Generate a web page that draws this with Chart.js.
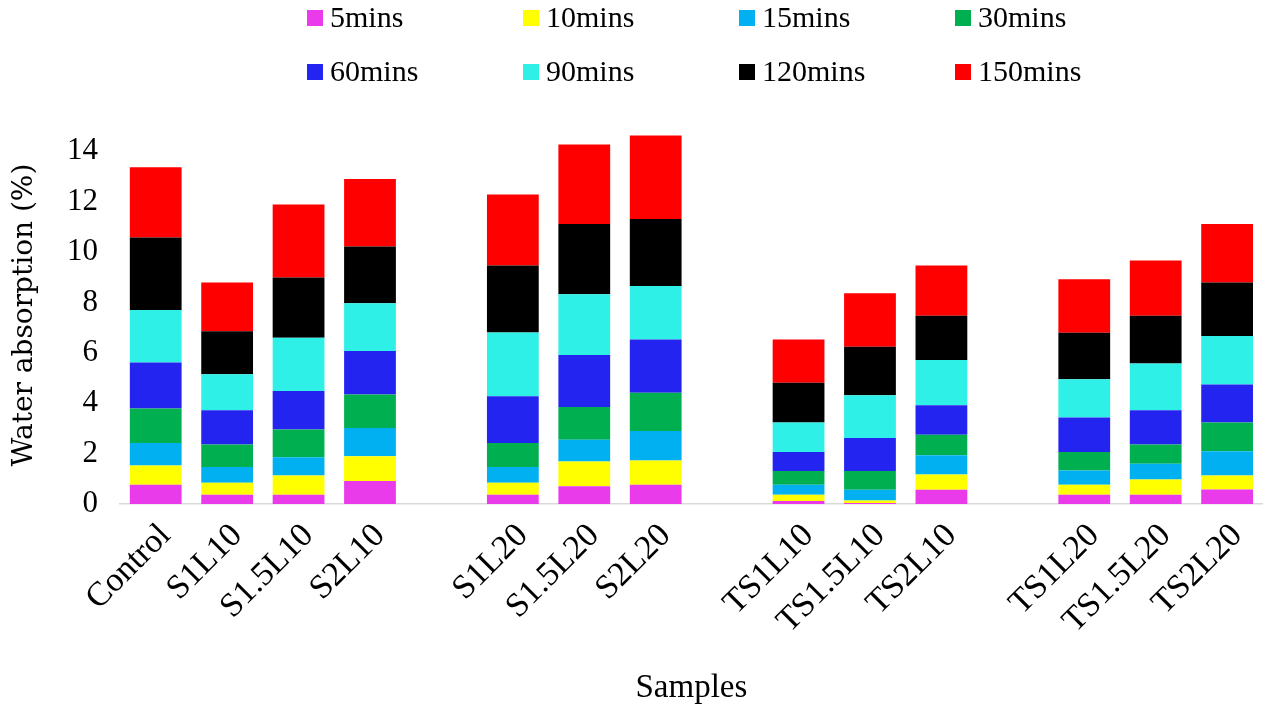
<!DOCTYPE html>
<html>
<head>
<meta charset="utf-8">
<script src="https://cdn.jsdelivr.net/npm/chart.js@4/dist/chart.umd.min.js"></script>
<style>
  html, body { margin: 0; padding: 0; background: #ffffff; }
  #wrap { width: 1268px; height: 706px; }
</style>
</head>
<body>
<div id="wrap"><canvas id="c" width="1268" height="706"></canvas></div>
<script>
// Sample names; empty strings are spacer columns between the groups
const categories = ['Control', 'S1L10', 'S1.5L10', 'S2L10', '',
  'S1L20', 'S1.5L20', 'S2L20', '',
  'TS1L10', 'TS1.5L10', 'TS2L10', '',
  'TS1L20', 'TS1.5L20', 'TS2L20'];

const timeLabels = ['5mins', '10mins', '15mins', '30mins', '60mins', '90mins', '120mins', '150mins'];
const timeColors = ['#EA3BEA', '#FFFF00', '#00B0F0', '#00B050', '#2424F0', '#2EF0E6', '#000000', '#FF0000'];

// Water absorption (%) gained in each interval, stacked per sample
const v5   = [0.76, 0.37, 0.37, 0.91, null, 0.37, 0.70, 0.76, null, 0.12, 0.04, 0.57, null, 0.37, 0.37, 0.58];
const v10  = [0.77, 0.47, 0.76, 0.98, null, 0.47, 0.99, 0.97, null, 0.25, 0.10, 0.60, null, 0.39, 0.60, 0.55];
const v15  = [0.89, 0.63, 0.73, 1.13, null, 0.63, 0.86, 1.17, null, 0.39, 0.43, 0.76, null, 0.57, 0.63, 0.96];
const v30  = [1.37, 0.89, 1.10, 1.33, null, 0.95, 1.30, 1.51, null, 0.55, 0.74, 0.82, null, 0.73, 0.76, 1.14];
const v60  = [1.83, 1.36, 1.52, 1.72, null, 1.86, 2.06, 2.12, null, 0.75, 1.31, 1.17, null, 1.37, 1.36, 1.51];
const v90  = [2.08, 1.43, 2.12, 1.90, null, 2.53, 2.41, 2.12, null, 1.17, 1.70, 1.79, null, 1.52, 1.86, 1.93];
const v120 = [2.88, 1.71, 2.39, 2.25, null, 2.65, 2.79, 2.66, null, 1.58, 1.92, 1.76, null, 1.85, 1.89, 2.12];
const v150 = [2.78, 1.93, 2.89, 2.68, null, 2.82, 3.16, 3.31, null, 1.72, 2.12, 1.99, null, 2.12, 2.19, 2.32];

const yTicks = [0, 2, 4, 6, 8, 10, 12, 14];

const seriesValues = [v5, v10, v15, v30, v60, v90, v120, v150];

const SERIF = '"Liberation Serif", "Times New Roman", serif';
const WIDE_SERIF = '"DejaVu Serif", serif';

// Legend drawn as a 4 x 2 grid above the plot
const gridLegend = {
  id: 'gridLegend',
  afterDraw(chart) {
    const ctx = chart.ctx;
    const x0 = 307, dx = 216, y0 = 18, dy = 54, box = 16;
    ctx.save();
    ctx.font = '30px ' + SERIF;
    ctx.textBaseline = 'middle';
    ctx.textAlign = 'left';
    chart.data.datasets.forEach((ds, i) => {
      const x = x0 + (i % 4) * dx;
      const y = y0 + Math.floor(i / 4) * dy;
      ctx.fillStyle = ds.backgroundColor;
      ctx.fillRect(x, y - box / 2, box, box);
      ctx.fillStyle = '#000000';
      ctx.fillText(ds.label, x + 23, y + 1);
    });
    ctx.restore();
  }
};

new Chart(document.getElementById('c'), {
  type: 'bar',
  data: {
    labels: categories,
    datasets: timeLabels.map((label, i) => ({
      label: label,
      data: seriesValues[i],
      backgroundColor: timeColors[i],
      borderWidth: 0,
      categoryPercentage: 1.0,
      barPercentage: 0.725
    }))
  },
  options: {
    responsive: false,
    animation: false,
    devicePixelRatio: 1,
    layout: { padding: { top: 126, right: 1, left: 0, bottom: 0 } },
    plugins: {
      legend: { display: false },
      tooltip: { enabled: false }
    },
    scales: {
      x: {
        stacked: true,
        grid: { display: false, drawTicks: false },
        border: { display: true, color: '#d9d9d9', width: 1.5 },
        ticks: {
          autoSkip: false,
          minRotation: 45,
          maxRotation: 45,
          labelOffset: 10,
          color: '#000000',
          padding: 12,
          font: { family: SERIF, size: 34 }
        },
        title: {
          display: true,
          text: 'Samples',
          color: '#000000',
          font: { family: SERIF, size: 33 },
          padding: { top: 0, bottom: -2 }
        },
        afterFit(scale) { scale.height = 202; }
      },
      y: {
        stacked: true,
        min: 0,
        max: 15,
        afterBuildTicks(scale) { scale.ticks = yTicks.map(v => ({ value: v })); },
        grid: { display: false, drawTicks: false },
        border: { display: false },
        ticks: {
          color: '#000000',
          padding: 22,
          font: { family: SERIF, size: 31 }
        },
        title: {
          display: true,
          text: 'Water absorption (%)',
          color: '#000000',
          font: { family: WIDE_SERIF, size: 28 },
          padding: { top: 8, bottom: 0 }
        },
        afterFit(scale) { scale.width = 120; }
      }
    }
  },
  plugins: [gridLegend]
});
</script>
</body>
</html>
